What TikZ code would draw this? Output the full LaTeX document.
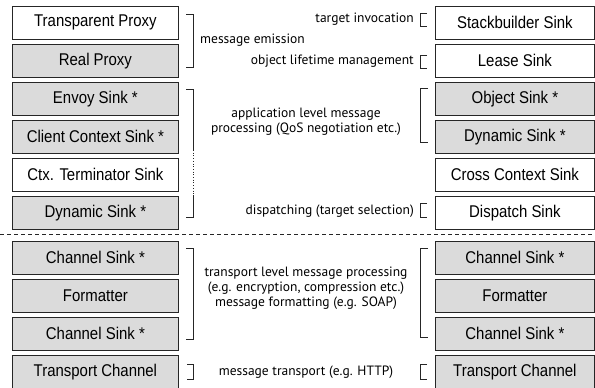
\documentclass[tikz,border=0pt]{standalone}
\usepackage{fontspec}
\newfontfamily\boxfont[FakeStretch=0.88]{Liberation Sans}
\newfontfamily\notefont{PT Sans}
\begin{document}
\begin{tikzpicture}[x=1pt,y=-1pt,
  blk/.style={draw=black!85,line width=0.8pt,minimum width=166pt,minimum height=33pt,anchor=north west,inner sep=0pt,font=\boxfont\fontsize{17}{20}\selectfont},
  rblk/.style={blk,minimum width=159pt},
  gray/.style={fill=black!14},
  white/.style={fill=white},
  note/.style={font=\notefont\fontsize{13.5}{15}\selectfont,inner sep=0pt,align=center},
  brk/.style={draw=black!85,line width=0.7pt}]
\useasboundingbox (0,0) rectangle (595,388);
% left column
\node[blk,white] (tp) at (12,6) {Transparent Proxy};
\node[blk,gray] (rp) at (12,44) {Real Proxy};
\node[blk,gray] (es) at (12,82) {Envoy Sink *};
\node[blk,gray] (cc) at (12,120) {Client Context Sink *};
\node[blk,white] (ct) at (12,158) {Ctx. Terminator Sink};
\node[blk,gray] (dl) at (12,196) {Dynamic Sink *};
\node[blk,gray] (lc1) at (12,241) {Channel Sink *};
\node[blk,gray] (lf) at (12,279) {Formatter};
\node[blk,gray] (lc2) at (12,317) {Channel Sink *};
\node[blk,gray] (lt) at (12,355) {Transport Channel};
% right column
\node[rblk,white] (sb) at (435,6) {Stackbuilder Sink};
\node[rblk,white] (ls) at (435,44) {Lease Sink};
\node[rblk,gray] (os) at (435,82) {Object Sink *};
\node[rblk,gray] (dr) at (435,120) {Dynamic Sink *};
\node[rblk,white] (cx) at (435,158) {Cross Context Sink};
\node[rblk,white] (ds) at (435,196) {Dispatch Sink};
\node[rblk,gray] (rc1) at (435,241) {Channel Sink *};
\node[rblk,gray] (rf) at (435,279) {Formatter};
\node[rblk,gray] (rc2) at (435,317) {Channel Sink *};
\node[rblk,gray] (rt) at (435,355) {Transport Channel};
% separator
\draw[black!85,line width=0.7pt,dash pattern=on 4pt off 3pt] (0,234) -- (595,234);
% left brackets
\draw[brk] (186,14) -- (193,14) -- (193,67) -- (186,67);
\draw[brk] (186,89) -- (193,89) -- (193,150);
\draw[brk,dotted] (193,150) -- (193,195);
\draw[brk] (193,195) -- (193,217) -- (186,217);
\draw[brk] (186,248) -- (193,248) -- (193,339) -- (186,339);
\draw[brk] (187,364) -- (193,364) -- (193,379) -- (187,379);
% right brackets
\draw[brk] (427,13) -- (420,13) -- (420,26) -- (427,26);
\draw[brk] (427,55) -- (420,55) -- (420,68) -- (427,68);
\draw[brk] (428,88) -- (420,88) -- (420,142) -- (428,142);
\draw[brk] (427,203) -- (420,203) -- (420,217) -- (427,217);
\draw[brk] (428,248) -- (420,248) -- (420,337) -- (428,337);
\draw[brk] (427,364) -- (420,364) -- (420,379) -- (427,379);
% notes
\node[note,anchor=west] (n1) at (200,40) {message emission};
\node[note,anchor=east] (n2) at (414,19) {target invocation};
\node[note,anchor=east] (n3) at (414,61) {object lifetime management};
\node[note] (n4) at (306,122) {application level message\\processing (QoS negotiation etc.)};
\node[note,anchor=east] (n5) at (414,211) {dispatching (target selection)};
\node[note] (n6) at (306,288) {transport level message processing\\(e.g. encryption, compression etc.)\\message formatting (e.g. SOAP)};
\node[note] (n7) at (306,372) {message transport (e.g. HTTP)};
\end{tikzpicture}
\end{document}
